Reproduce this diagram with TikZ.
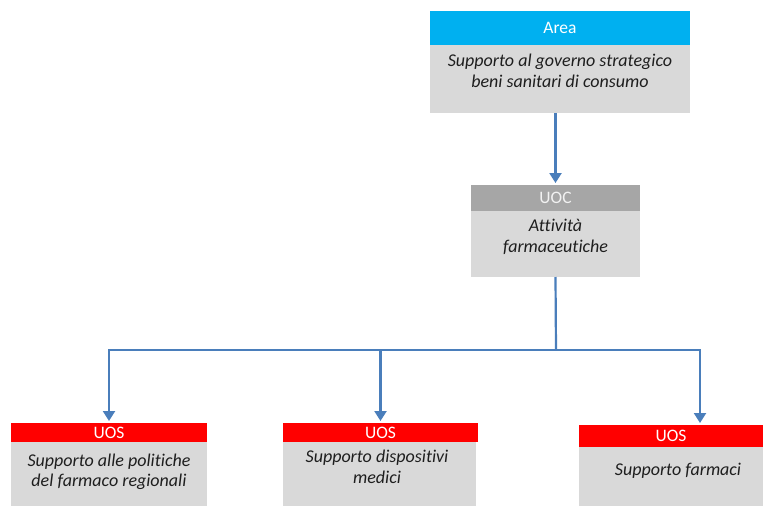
\documentclass[tikz,border=0pt]{standalone}
\usepackage{fontspec}
\setmainfont{Carlito}[Ligatures=NoCommon]
\usetikzlibrary{arrows.meta}
\definecolor{hdrcyan}{HTML}{00B0F0}
\definecolor{hdrgray}{HTML}{A6A6A6}
\definecolor{hdrred}{HTML}{FF0000}
\definecolor{bodygray}{HTML}{D9D9D9}
\definecolor{txtdark}{HTML}{1E1E1E}
\definecolor{linkblue}{HTML}{4A7EBB}
\tikzset{
  hdr/.style={anchor=north west, inner sep=0pt, outer sep=0pt, text=white,
    font=\fontsize{17.5}{20}\selectfont},
  bodybox/.style={anchor=north west, fill=bodygray, inner sep=0pt, outer sep=0pt},
  bodytext/.style={align=center, text=txtdark, inner sep=0pt,
    font=\fontsize{18}{20.5}\selectfont\itshape},
  conn/.style={draw=linkblue, line width=2.2pt,
    -{Triangle[width=12pt,length=10pt]}, shorten >=2pt},
  plain/.style={draw=linkblue, line width=2.2pt}
}
\begin{document}
\begin{tikzpicture}[x=1pt,y=-1pt]
\useasboundingbox (0,0) rectangle (763,506);

% Area
\node[hdr, fill=hdrcyan, minimum width=260pt, minimum height=34pt] (areah) at (430,11) {Area};
\node[bodybox, minimum width=260pt, minimum height=68pt] (areab) at (430,45) {};
\node[bodytext] (areat) at (560,71) {Supporto al governo strategico\\beni sanitari di consumo};

% UOC
\node[hdr, fill=hdrgray, text=white!95!black, minimum width=169pt, minimum height=26pt] (uoch) at (471,185) {UOC};
\node[bodybox, minimum width=169pt, minimum height=66pt] (uocb) at (471,211) {};
\node[bodytext] (uoct) at (555.5,237) {Attività\\farmaceutiche};

% UOS boxes
\node[hdr, fill=hdrred, minimum width=196pt, minimum height=19pt] (uos1h) at (11,423) {UOS};
\node[bodybox, minimum width=196pt, minimum height=64pt] (uos1b) at (11,442) {};
\node[bodytext] (uos1t) at (109,472) {Supporto alle politiche\\del farmaco regionali};

\node[hdr, fill=hdrred, minimum width=195pt, minimum height=19pt] (uos2h) at (283,423) {UOS};
\node[bodybox, minimum width=193pt, minimum height=64pt] (uos2b) at (283,442) {};
\node[bodytext] (uos2t) at (377,467) {Supporto dispositivi\\medici};

\node[hdr, fill=hdrred, minimum width=184pt, minimum height=22pt] (uos3h) at (579,425) {UOS};
\node[bodybox, minimum width=184pt, minimum height=59pt] (uos3b) at (579,447) {};
\node[bodytext] (uos3t) at (678,471) {Supporto farmaci};

% Connectors
\coordinate (bus) at (556,350);
\coordinate (uos3in) at (700,425);
\draw[conn] (areab.south -| uoch.north) -- (uoch.north);
\draw[plain] (uocb.south) -- (bus);
\draw[conn] (bus) -| (uos1h.north);
\draw[conn] (bus) -| (uos2h.north);
\draw[conn] (bus) -| (uos3in);
\end{tikzpicture}
\end{document}
